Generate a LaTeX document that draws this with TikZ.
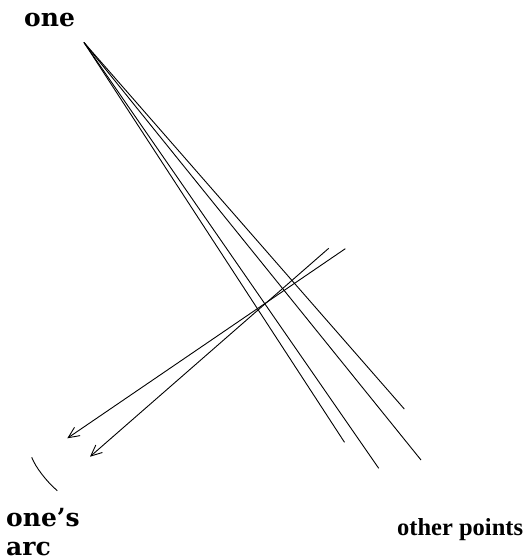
\documentclass[tikz,border=0pt]{standalone}
\usepackage{fontspec}
\setmainfont{Liberation Serif}
\newfontfamily\slabfont{DejaVu Serif}
\usetikzlibrary{arrows.meta}
\begin{document}
\begin{tikzpicture}[x=1pt,y=-1pt,
  ray/.style={line width=0.9pt},
  arr/.style={line width=0.9pt,-{Straight Barb[length=11pt,width=10pt,line width=0.9pt]}},
  slab/.style={font=\slabfont\bfseries\fontsize{25}{29}\selectfont,inner sep=0pt,anchor=base west},
  plain/.style={font=\bfseries\fontsize{24.5}{28}\selectfont,inner sep=0pt,anchor=base west}]
\useasboundingbox (0,0) rectangle (527,559);
\coordinate (o) at (84,42.5);
\coordinate (e1) at (344.5,442.3);
\coordinate (e2) at (378.7,468.3);
\coordinate (e3) at (404.3,409);
\coordinate (e4) at (421,460);
\draw[ray] (o) -- (e1);
\draw[ray] (o) -- (e2);
\draw[ray] (o) -- (e3);
\draw[ray] (o) -- (e4);
\coordinate (a1) at (328.7,248.3);
\coordinate (t1) at (90,456.7);
\coordinate (a2) at (345.3,248.7);
\coordinate (t2) at (67.3,438.3);
\draw[arr] (a1) -- (t1);
\draw[arr] (a2) -- (t2);
\coordinate (c1) at (31.7,457.3);
\coordinate (c2) at (57.3,490.7);
\draw[ray] (c1) .. controls (35.5,467) and (46,481) .. (c2);
\node[slab] (one) at (24,27) {one};
\node[slab] (onesarc) at (6,526) {one’s};
\node[slab] (arc) at (6,555.5) {arc};
\node[plain] (other) at (397,535) {other points};
\end{tikzpicture}
\end{document}
